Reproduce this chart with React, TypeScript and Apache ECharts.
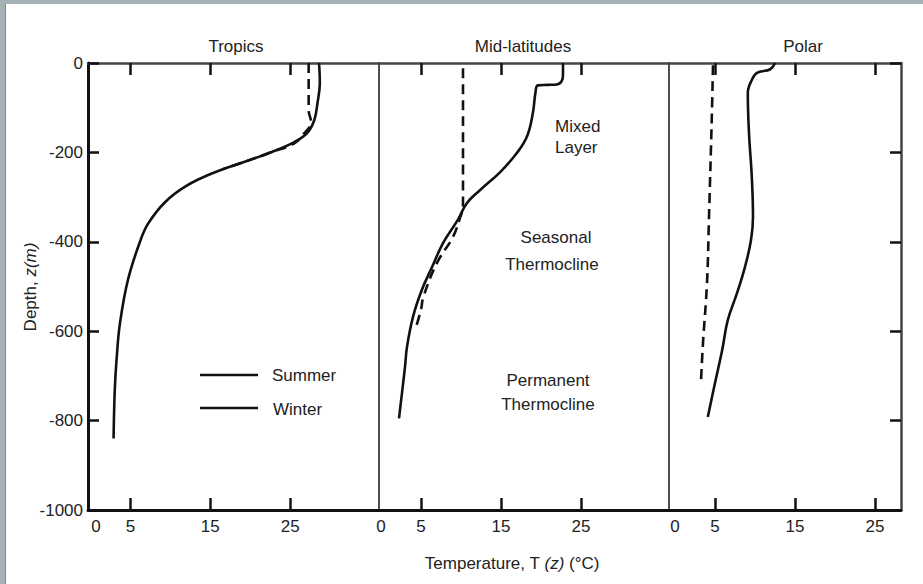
import React, { useEffect, useRef } from "react";
import * as echarts from "echarts";

// ---- data (temperature °C, depth m) ----
const panelTitles = ["Tropics", "Mid-latitudes", "Polar"];
const depthMin = -1000;
const depthMax = 0;
const depthStep = 200;
const tempTickValues = [5, 15, 25];
const tropicsLabelValues = [0.7, 5, 15, 25];
const midLabelValues = [0, 5, 15, 25];
const polarLabelValues = [0, 5, 15, 25];

const tropicsSummer = [
  [28.6, 0], [28.7, -45], [28.4, -90], [28.0, -128], [27.1, -157], [25.5, -177],
  [22.7, -199], [19.3, -221], [15.5, -245], [12.0, -275], [9.3, -312], [7.2, -360],
  [6.2, -400], [4.7, -485], [3.7, -582], [3.3, -657], [3.05, -731], [2.9, -840],
];
const tropicsWinter = [
  [27.3, 0], [27.3, -55], [27.3, -105], [27.6, -133], [26.7, -158], [25.5, -180],
  [22.7, -199], [19.3, -221], [16.5, -238],
];
const midSummer = [
  [22.75, 0], [22.75, -25], [22.6, -40], [22.0, -48], [20.8, -49], [19.6, -50],
  [19.3, -67], [19.0, -110], [18.3, -162], [17.0, -201], [14.9, -244], [12.4, -284],
  [10.75, -313], [9.6, -351], [7.75, -403], [6.4, -456], [5.1, -508], [4.0, -568],
  [3.25, -635], [3.0, -680], [2.25, -795],
];
const midWinter = [
  [10.25, -12], [10.25, -322], [9.9, -345], [9.0, -389], [7.0, -447], [5.3, -523],
  [5.0, -552], [4.25, -598],
];
const polarSummer = [
  [12.5, 0], [11.9, -14], [10.25, -22], [9.6, -38], [9.1, -67], [9.25, -157],
  [9.6, -255], [9.75, -344], [9.5, -396], [8.75, -456], [7.75, -515], [6.6, -575],
  [5.9, -642], [5.0, -716], [4.1, -792],
];
const polarWinter = [
  [4.75, -5], [4.6, -121], [4.25, -344], [4.0, -492], [3.5, -626], [3.25, -712],
];

const FONT = '"Liberation Sans", Arial, Helvetica, sans-serif';
const INK = "#111";
const TXT = "#222";

function bottomX(i: number, min: number, max: number, labels: number[]) {
  return {
    type: "value", gridIndex: i, position: "bottom", min, max,
    axisLine: { show: true, onZero: false, lineStyle: { color: INK, width: 3 } },
    axisTick: { show: true, inside: true, length: 12, customValues: tempTickValues, lineStyle: { color: INK, width: 2.5 } },
    axisLabel: {
      show: true, customValues: labels, margin: 8, fontSize: 17, color: TXT, fontFamily: FONT,
      formatter: (v: number) => (v < 1 ? "0" : String(v)),
    },
    splitLine: { show: false },
  };
}
function topX(i: number, min: number, max: number) {
  return {
    type: "value", gridIndex: i, position: "top", min, max,
    axisLine: { show: true, onZero: false, lineStyle: { color: "#444", width: 2.5 } },
    axisTick: { show: true, inside: true, length: 12, customValues: tempTickValues, lineStyle: { color: INK, width: 2.5 } },
    axisLabel: { show: false },
    splitLine: { show: false },
  };
}
function yAx(i: number, position: string, opts: any) {
  return {
    type: "value", gridIndex: i, position, min: depthMin, max: depthMax, interval: depthStep,
    splitLine: { show: false },
    ...opts,
  };
}
function line(x: number, y: number, data: number[][], dashed: boolean) {
  return {
    type: "line", xAxisIndex: x, yAxisIndex: y, data, showSymbol: false, smooth: 0.4,
    silent: true,
    lineStyle: { color: INK, width: 2.6, type: dashed ? [10, 6] : "solid" },
  };
}
function txt(text: string, x: number, y: number, align = "center") {
  return {
    type: "text", x, y,
    style: { text, fill: TXT, font: `17px ${FONT}`, align, verticalAlign: "middle" },
  };
}

export default function App() {
  const ref = useRef<HTMLDivElement>(null);
  useEffect(() => {
    if (!ref.current) return;
    const chart = echarts.init(ref.current, null, { renderer: "svg" });
    const option: any = {
      animation: false,
      backgroundColor: "#ffffff",
      grid: [
        { left: 88, top: 63, width: 291, height: 447 },
        { left: 379, top: 63, width: 290, height: 447 },
        { left: 669, top: 63, width: 232, height: 447 },
      ],
      xAxis: [
        bottomX(0, -0.3, 36.1, tropicsLabelValues),
        bottomX(1, -0.25, 36, midLabelValues),
        bottomX(2, -0.75, 28.25, polarLabelValues),
        topX(0, -0.3, 36.1),
        topX(1, -0.25, 36),
        topX(2, -0.75, 28.25),
      ],
      yAxis: [
        yAx(0, "left", {
          axisLine: { show: true, onZero: false, lineStyle: { color: INK, width: 3 } },
          axisTick: { show: true, inside: true, length: 11, lineStyle: { color: INK, width: 2.5 } },
          axisLabel: {
            show: true, margin: 5, fontSize: 17, color: TXT, fontFamily: FONT,
            formatter: (v: number) => String(v),
          },
        }),
        yAx(1, "left", {
          axisLine: { show: true, onZero: false, lineStyle: { color: "#222", width: 1.6 } },
          axisTick: { show: false }, axisLabel: { show: false },
        }),
        yAx(2, "left", {
          axisLine: { show: true, onZero: false, lineStyle: { color: "#222", width: 1.6 } },
          axisTick: { show: false }, axisLabel: { show: false },
        }),
        yAx(2, "right", {
          axisLine: { show: true, onZero: false, lineStyle: { color: "#444", width: 2.5 } },
          axisTick: { show: true, inside: true, length: 11, lineStyle: { color: INK, width: 2.5 } },
          axisLabel: { show: false },
        }),
      ],
      series: [
        line(0, 0, tropicsSummer, false),
        line(0, 0, tropicsWinter, true),
        line(1, 1, midSummer, false),
        line(1, 1, midWinter, true),
        line(2, 2, polarSummer, false),
        line(2, 2, polarWinter, true),
      ],
      graphic: [
        { type: "rect", shape: { x: 0, y: 0, width: 923, height: 4 }, style: { fill: "#a4b1b5" } },
        { type: "rect", shape: { x: 0, y: 0, width: 6, height: 584 }, style: { fill: "#a4b1b5" } },
        { type: "rect", shape: { x: 5, y: 4, width: 1, height: 580 }, style: { fill: "#7d8a8e" } },
        txt(panelTitles[0], 236, 46),
        txt(panelTitles[1], 523, 46),
        txt(panelTitles[2], 803, 46),
        txt("Mixed", 555, 126, "left"),
        txt("Layer", 555, 147, "left"),
        txt("Seasonal", 556, 237),
        txt("Thermocline", 552, 264),
        txt("Permanent", 548, 380),
        txt("Thermocline", 548, 404),
        { type: "line", shape: { x1: 200, y1: 375, x2: 258, y2: 375 }, style: { stroke: INK, lineWidth: 2.6 } },
        { type: "line", shape: { x1: 200, y1: 408, x2: 258, y2: 408 }, style: { stroke: INK, lineWidth: 2.6 } },
        txt("Summer", 272, 375, "left"),
        txt("Winter", 273, 409, "left"),
        {
          type: "text", x: 512, y: 563,
          style: {
            text: "{n|Temperature, T }{i|(z)}{n| (°C)}",
            align: "center", verticalAlign: "middle", fill: TXT, font: `17px ${FONT}`,
            rich: {
              n: { fontSize: 17, fontFamily: FONT, fill: TXT, color: TXT },
              i: { fontSize: 17, fontFamily: FONT, fontStyle: "italic", fill: TXT, color: TXT },
            },
          },
        },
        {
          type: "text", x: 30, y: 287, rotation: Math.PI / 2,
          style: {
            text: "{n|Depth, }{i|z(m)}",
            align: "center", verticalAlign: "middle", fill: TXT, font: `17px ${FONT}`,
            rich: {
              n: { fontSize: 17, fontFamily: FONT, fill: TXT, color: TXT },
              i: { fontSize: 17, fontFamily: FONT, fontStyle: "italic", fill: TXT, color: TXT },
            },
          },
        },
      ],
    };
    chart.setOption(option);
    return () => chart.dispose();
  }, []);
  return (
    <div
      ref={ref}
      style={{ position: "fixed", left: 0, top: 0, width: 923, height: 584, background: "#fff" }}
    />
  );
}
